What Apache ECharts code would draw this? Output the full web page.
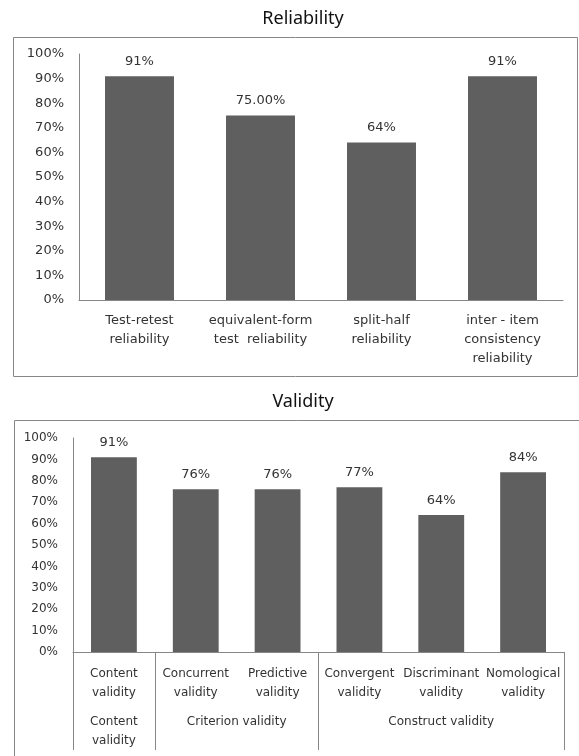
<!DOCTYPE html>
<html>
<head>
<meta charset="utf-8">
<title>Reliability and Validity</title>
<script src="https://cdn.jsdelivr.net/npm/echarts@6/dist/echarts.min.js"></script>
<style>
  html, body { margin: 0; padding: 0; background: #fff; }
  #chart { width: 579px; height: 756px; }
</style>
</head>
<body>
<div id="chart"></div>
<script>
  // data
  const relCategories = ['Test-retest\nreliability', 'equivalent-form\ntest  reliability', 'split-half\nreliability', 'inter - item\nconsistency\nreliability'];
  const relValues = [91, 75, 64, 91];
  const relDecimals = [0, 2, 0, 0];

  const valCategories = ['Content\nvalidity', 'Concurrent\nvalidity', 'Predictive\nvalidity', 'Convergent\nvalidity', 'Discriminant\nvalidity', 'Nomological\nvalidity'];
  const valValues = [91, 76, 76, 77, 64, 84];
  const valGroups = ['Content\nvalidity', 'Criterion validity', 'Construct validity'];
  const valGroupSizes = [1, 2, 3];

  const yTicks = [0, 10, 20, 30, 40, 50, 60, 70, 80, 90, 100];

  // group start index + group centre on a 0..n scale
  const groupStarts = [];
  const groupCenters = {};
  let acc = 0;
  valGroupSizes.forEach((n, i) => {
    groupStarts.push(acc);
    groupCenters[acc + n / 2] = valGroups[i];
    acc += n;
  });

  const font = 'DejaVu Sans';
  const textColor = '#333';
  const lineColor = '#878787';
  const barColor = '#5f5f5f';

  const chart = echarts.init(document.getElementById('chart'));

  function yAxis(grid, size, margin) {
    return {
      type: 'value', gridIndex: grid,
      min: yTicks[0],
      max: yTicks[yTicks.length - 1],
      interval: 10,
      axisLine: { show: true, lineStyle: { color: lineColor } },
      axisTick: { show: false },
      splitLine: { show: false },
      axisLabel: { formatter: '{value}%', color: textColor, fontFamily: font, fontSize: size, margin: margin }
    };
  }

  const option = {
    animation: false,
    title: [
      { text: 'Reliability', left: 298, top: 5, textAlign: 'center',
        textStyle: { fontFamily: 'Noto Sans', fontSize: 18, fontWeight: 'normal', color: '#111' } },
      { text: 'Validity', left: 298, top: 388, textAlign: 'center',
        textStyle: { fontFamily: 'Noto Sans', fontSize: 18, fontWeight: 'normal', color: '#111' } }
    ],
    graphic: [
      { type: 'rect', shape: { x: 13.5, y: 37.5, width: 564, height: 339 }, style: { fill: 'none', stroke: lineColor, lineWidth: 1 }, silent: true },
      { type: 'rect', shape: { x: 14.5, y: 420.5, width: 580, height: 360 }, style: { fill: 'none', stroke: lineColor, lineWidth: 1 }, silent: true }
    ],
    grid: [
      { left: 79, right: 16, top: 54, height: 246 },
      { left: 73, right: 15, top: 438, height: 214 }
    ],
    xAxis: [
      {
        type: 'category', gridIndex: 0, data: relCategories,
        axisLine: { lineStyle: { color: lineColor } },
        axisTick: { show: false },
        axisLabel: { interval: 0, color: textColor, fontFamily: font, fontSize: 13, lineHeight: 19, margin: 11 }
      },
      {
        type: 'category', gridIndex: 1, data: valCategories,
        axisLine: { lineStyle: { color: lineColor } },
        axisTick: { show: true, length: 98, interval: idx => groupStarts.includes(idx), lineStyle: { color: lineColor } },
        axisLabel: { interval: 0, color: textColor, fontFamily: font, fontSize: 12, lineHeight: 19, margin: 12 }
      },
      {
        type: 'value', gridIndex: 1, min: 0, max: valCategories.length, interval: 0.5,
        position: 'bottom', offset: 50,
        axisLine: { show: false }, axisTick: { show: false }, splitLine: { show: false },
        axisLabel: {
          color: textColor, fontFamily: font, fontSize: 12, lineHeight: 19, margin: 10,
          showMinLabel: true, showMaxLabel: true,
          formatter: v => groupCenters[v] || ''
        }
      }
    ],
    yAxis: [yAxis(0, 13, 15), yAxis(1, 12, 15)],
    series: [
      {
        type: 'bar', xAxisIndex: 0, yAxisIndex: 0, data: relValues,
        barCategoryGap: '43%',
        itemStyle: { color: barColor },
        label: {
          show: true, position: 'top', distance: 8, color: textColor, fontFamily: font, fontSize: 13,
          formatter: p => p.value.toFixed(relDecimals[p.dataIndex]) + '%'
        }
      },
      {
        type: 'bar', xAxisIndex: 1, yAxisIndex: 1, data: valValues,
        barCategoryGap: '44%',
        itemStyle: { color: barColor },
        label: {
          show: true, position: 'top', distance: 8, color: textColor, fontFamily: font, fontSize: 13,
          formatter: '{c}%'
        }
      }
    ]
  };

  chart.setOption(option);
</script>
</body>
</html>
